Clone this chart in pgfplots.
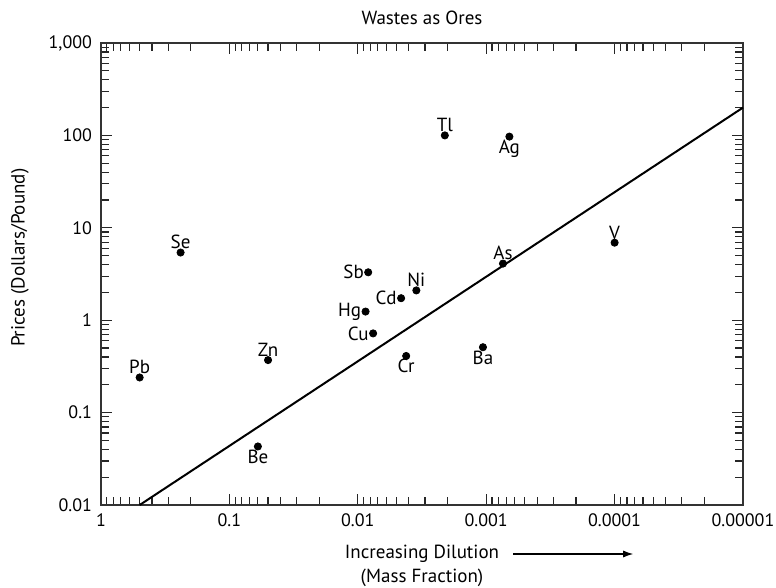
\documentclass[border=0pt]{standalone}
\usepackage{fontspec}
\setmainfont{PT Sans}
\usepackage{pgfplots}
\pgfplotsset{compat=1.18}
\usetikzlibrary{arrows.meta}

\begin{document}
\begin{tikzpicture}
\begin{axis}[
  name=ax,
  scale only axis,
  width=321pt, height=231pt,
  xmode=log, ymode=log, x dir=reverse,
  xmin=1e-5, xmax=1, ymin=0.01, ymax=1000,
  xtick={1e-5,1e-4,1e-3,1e-2,1e-1,1},
  xticklabels={0.00001,0.0001,0.001,0.01,0.1,1},
  ytick={0.01,0.1,1,10,100,1000},
  yticklabels={0.01,0.1,1,10,100,{1,000}},
  minor xtick={2e-5,3e-5,4e-5,5e-5,6e-5,7e-5,8e-5,9e-5,
               2e-4,3e-4,4e-4,5e-4,6e-4,7e-4,8e-4,9e-4,
               2e-3,3e-3,4e-3,5e-3,6e-3,7e-3,8e-3,9e-3,
               2e-2,3e-2,4e-2,5e-2,6e-2,7e-2,8e-2,9e-2,
               0.2,0.3,0.4,0.5,0.6,0.7,0.8,0.9},
  minor ytick={0.02,0.03,0.04,0.05,0.06,0.07,0.08,0.09,
               0.2,0.3,0.4,0.5,0.6,0.7,0.8,0.9,
               2,3,4,5,6,7,8,9,
               20,30,40,50,60,70,80,90,
               200,300,400,500,600,700,800,900},
  tick align=inside,
  major tick length=5.5pt, minor tick length=4pt,
  tick style={black!85, line width=0.6pt},
  axis line style={black!80, line width=1pt},
  tick label style={font=\fontsize{9}{10.5}\selectfont},
  xticklabel style={yshift=-1pt},
  yticklabel style={xshift=-1pt},
  title={Wastes as Ores},
  title style={font=\fontsize{9.5}{11}\selectfont, yshift=-0.5pt},
  xlabel={Increasing Dilution\\(Mass Fraction)},
  xlabel style={align=center, font=\fontsize{9.5}{12}\selectfont, yshift=-2pt},
  ylabel={Prices (Dollars/Pound)},
  ylabel style={font=\fontsize{9.5}{11}\selectfont, at={(ticklabel cs:0.535,3pt)}},
  clip=false,
]
% trend line
\addplot[black, line width=1pt] coordinates {(0.5,0.01) (1e-5,200)};

% labels above
\addplot[only marks, mark=*, mark size=1.8pt, black,
  nodes near coords, point meta=explicit symbolic,
  every node near coord/.append style={anchor=south, inner sep=1.5pt, font=\fontsize{9.5}{11}\selectfont}]
  table[meta=lab] {
x y lab
0.5 0.24 Pb
0.05 0.37 Zn
0.24 5.4 Se
0.0035 2.1 Ni
0.00074 4.1 As
0.0001 6.9 V
0.0021 100 Tl
};

% labels below
\addplot[only marks, mark=*, mark size=1.8pt, black,
  nodes near coords, point meta=explicit symbolic,
  every node near coord/.append style={anchor=north, inner sep=1.5pt, font=\fontsize{9.5}{11}\selectfont}]
  table[meta=lab] {
x y lab
0.06 0.043 Be
0.0042 0.41 Cr
0.00106 0.51 Ba
0.00066 97 Ag
};

% labels left
\addplot[only marks, mark=*, mark size=1.8pt, black,
  nodes near coords, point meta=explicit symbolic,
  every node near coord/.append style={anchor=east, inner sep=2pt, font=\fontsize{9.5}{11}\selectfont}]
  table[meta=lab] {
x y lab
0.0083 3.3 Sb
0.0087 1.24 Hg
0.0076 0.72 Cu
0.0046 1.73 Cd
};

% arrow after "Increasing Dilution"
\draw[black, line width=0.6pt, -{Latex[length=5pt,width=3.5pt]}]
  ([yshift=-24.5pt]rel axis cs:0.642,0) -- ([yshift=-24.5pt]rel axis cs:0.829,0);
\end{axis}
% page frame as in the reference
\pgfresetboundingbox
\path ([xshift=-50.5pt,yshift=-41.5pt]ax.south west) rectangle ([xshift=16.5pt,yshift=21.5pt]ax.north east);
\end{tikzpicture}
\end{document}
